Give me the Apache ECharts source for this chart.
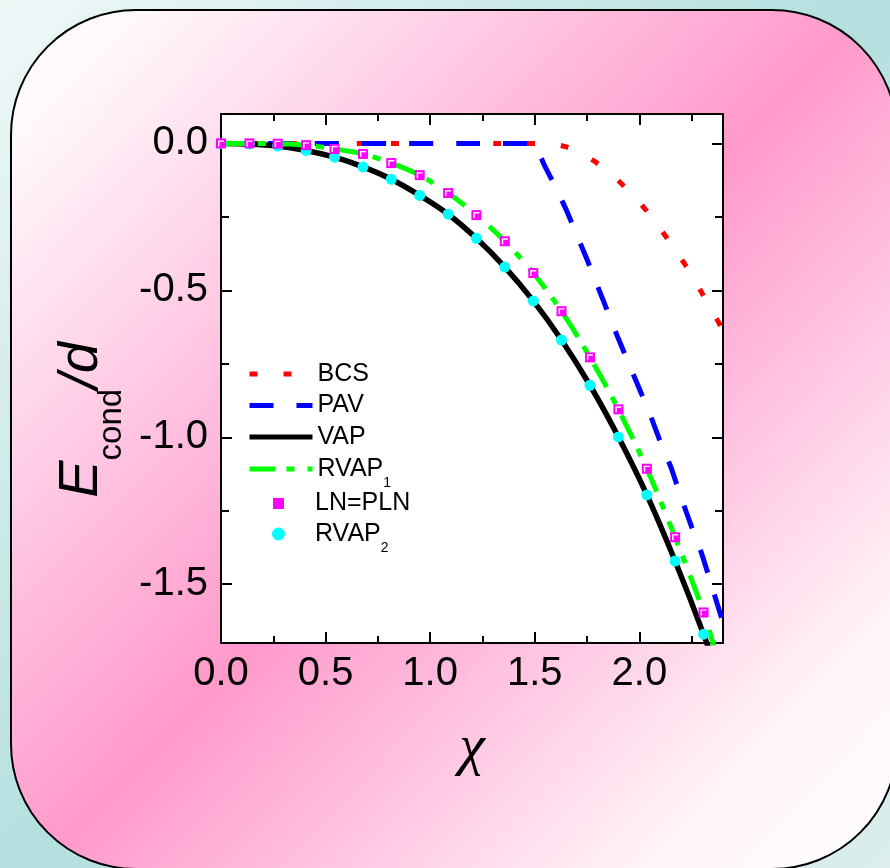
<!DOCTYPE html>
<html><head><meta charset="utf-8">
<script src="https://cdn.jsdelivr.net/npm/echarts@6/dist/echarts.min.js"></script>
<style>html,body{margin:0;padding:0;background:#fff}#c{width:890px;height:868px}</style>
</head><body><div id="c"></div>
<script>
// ---- data ----
const chiGrid = [0, 0.136, 0.271, 0.407, 0.543, 0.679, 0.814, 0.950, 1.086, 1.221, 1.357, 1.493, 1.628, 1.764, 1.900, 2.036, 2.171, 2.307];
const lnPlnE  = [0, 0, -0.001, -0.006, -0.019, -0.036, -0.067, -0.108, -0.169, -0.244, -0.333, -0.441, -0.571, -0.728, -0.905, -1.107, -1.340, -1.596];
const rvap2E  = [0, -0.002, -0.009, -0.024, -0.047, -0.080, -0.122, -0.177, -0.241, -0.323, -0.421, -0.536, -0.669, -0.823, -0.999, -1.196, -1.421, -1.670];

const vapChi  = [0, 0.136, 0.271, 0.407, 0.543, 0.679, 0.814, 0.950, 1.086, 1.221, 1.357, 1.493, 1.628, 1.764, 1.900, 2.036, 2.171, 2.307, 2.40];
const vapE    = [0, -0.002, -0.009, -0.024, -0.047, -0.080, -0.122, -0.177, -0.241, -0.323, -0.421, -0.536, -0.669, -0.823, -0.999, -1.196, -1.421, -1.670, -1.86];
const rvap1E  = [0, 0, -0.001, -0.006, -0.019, -0.036, -0.067, -0.108, -0.169, -0.244, -0.333, -0.441, -0.571, -0.728, -0.905, -1.107, -1.340, -1.596, -1.82];

const bcsChi  = [0, 1.40, 1.53, 1.60, 1.65, 1.70, 1.75, 1.80, 1.85, 1.90, 1.95, 2.00, 2.05, 2.10, 2.15, 2.20, 2.25, 2.30, 2.35, 2.40];
const bcsE    = [0, 0, 0, -0.004, -0.012, -0.026, -0.045, -0.068, -0.095, -0.127, -0.162, -0.200, -0.243, -0.290, -0.340, -0.392, -0.447, -0.510, -0.572, -0.636];

const pavChi  = [0, 1.40, 1.49, 1.55, 1.60, 1.65, 1.70, 1.75, 1.80, 1.85, 1.90, 1.95, 2.00, 2.05, 2.10, 2.15, 2.20, 2.25, 2.30, 2.35, 2.40];
const pavE    = [0, 0, 0, -0.08, -0.15, -0.225, -0.31, -0.395, -0.485, -0.575, -0.665, -0.75, -0.835, -0.92, -1.015, -1.10, -1.205, -1.305, -1.40, -1.515, -1.63];

const xTicks = [0, 0.5, 1.0, 1.5, 2.0];
const xMinor = [0.25, 0.75, 1.25, 1.75, 2.25];
const yTicks = [0, -0.5, -1.0, -1.5];
const yMinor = [-0.25, -0.75, -1.25];

const seriesNames = ['BCS', 'PAV', 'VAP', 'RVAP1', 'LN=PLN', 'RVAP2'];

// ---- build ----
const zip = (xs, ys) => xs.map((x, i) => [x, ys[i]]);
const FONT = '"Liberation Sans", Arial, sans-serif';
const SERIF = '"Liberation Serif", "Times New Roman", serif';
const fmt = v => Number(v).toFixed(1);

function mkX(position, ticks, len, labels, extra) {
  return Object.assign({
    type: 'value', position, min: 0, max: 2.4, gridIndex: 0,
    axisLine: { show: true, onZero: false, lineStyle: { color: '#000', width: 2 } },
    axisTick: { show: true, inside: true, length: len, customValues: ticks, lineStyle: { color: '#000', width: 2 } },
    axisLabel: { show: labels, customValues: ticks, formatter: fmt, fontSize: 40, fontFamily: FONT, color: '#000', margin: 11 },
    splitLine: { show: false }
  }, extra || {});
}
function mkY(position, ticks, len, labels, extra) {
  return Object.assign({
    type: 'value', position, min: -1.7, max: 0.1, gridIndex: 0,
    axisLine: { show: true, onZero: false, lineStyle: { color: '#000', width: 2 } },
    axisTick: { show: true, inside: true, length: len, customValues: ticks, lineStyle: { color: '#000', width: 2 } },
    axisLabel: { show: labels, customValues: ticks, formatter: fmt, fontSize: 40, fontFamily: FONT, color: '#000', margin: 13 },
    splitLine: { show: false }
  }, extra || {});
}
const legendRich = { sub: { fontSize: 14, fontFamily: FONT, color: '#000', lineHeight: 14, padding: [28, 0, 0, 0], verticalAlign: 'middle' } };
function mkLegend(name, top, h, icon) {
  const l = {
    data: [name], left: 247, top, orient: 'vertical', padding: 0, itemGap: 0,
    itemWidth: 63, itemHeight: h, symbolKeepAspect: true,
    textStyle: { fontSize: 25, fontFamily: FONT, color: '#000', rich: legendRich },
    formatter: n => n === 'RVAP1' ? 'RVAP{sub|1}' : (n === 'RVAP2' ? 'RVAP{sub|2}' : n)
  };
  if (icon) { l.icon = icon; l.itemStyle = { opacity: 1 }; }
  else { l.itemStyle = { opacity: 0 }; l.lineStyle = { width: 5 }; }
  return l;
}
// icon paths span the whole 63-px icon box (tiny corner anchors) so the marker sits in its middle
const squareIcon = 'path://M0,5.5h0.01v0.01h-0.01Z M62.99,5.5h0.01v0.01h-0.01Z M26,0H37V11H26Z';
const circleIcon = 'path://M0,6.5h0.01v0.01h-0.01Z M62.99,6.5h0.01v0.01h-0.01Z M38,6.5A6.5,6.5,0,1,1,25,6.5A6.5,6.5,0,1,1,38,6.5Z';

const chart = echarts.init(document.getElementById('c'), null, { renderer: 'canvas' });
const option = {
  animation: false,
  graphic: [
    { type: 'rect', z: -20, silent: true, shape: { x: 0, y: 0, width: 890, height: 868 },
      style: { fill: new echarts.graphic.LinearGradient(0, 0, 1, 1, [
        { offset: 0, color: '#f0f8f8' }, { offset: 0.5, color: '#b4dfdf' }, { offset: 1, color: '#dceeee' }]) } },
    { type: 'rect', z: -19, silent: true, shape: { x: 11, y: 10, width: 886, height: 859, r: 125 },
      style: { stroke: '#000', lineWidth: 2, fill: new echarts.graphic.LinearGradient(0, 0, 1, 1, [
        { offset: 0, color: '#ffffff' }, { offset: 0.08, color: '#fff8fb' }, { offset: 0.5, color: '#ff99cc' },
        { offset: 0.85, color: '#fff4f8' }, { offset: 1, color: '#ffffff' }]) } }
  ],
  grid: { left: 221, top: 114, width: 502, height: 529, show: true, backgroundColor: '#ffffff', borderWidth: 0 },
  xAxis: [
    mkX('bottom', xTicks, 11, true, { name: 'χ', nameLocation: 'middle', nameGap: 77,
      nameTextStyle: { fontSize: 58, fontStyle: 'italic', fontFamily: SERIF, color: '#000' } }),
    mkX('bottom', xMinor, 7, false),
    mkX('top', xTicks, 11, false),
    mkX('top', xMinor, 7, false)
  ],
  yAxis: [
    mkY('left', yTicks, 11, true, { name: '{e|E}{sub|cond}{e|/d}', nameLocation: 'middle', nameGap: 94, nameRotate: 90,
      nameTextStyle: { padding: [0, 83, 0, 0], rich: {
        e: { fontSize: 56, fontStyle: 'italic', fontFamily: FONT, color: '#000', lineHeight: 56, verticalAlign: 'middle' },
        sub: { fontSize: 33, fontFamily: FONT, color: '#000', lineHeight: 33, padding: [60, 0, 0, 0], verticalAlign: 'middle' } } } }),
    mkY('left', yMinor, 8, false),
    mkY('right', yTicks, 11, false),
    mkY('right', yMinor, 8, false)
  ],
  legend: [
    mkLegend('BCS', 361.5, 12),
    mkLegend('PAV', 393, 12),
    mkLegend('VAP', 424.5, 12),
    mkLegend('RVAP1', 448, 12),
    mkLegend('LN=PLN', 491, 11, squareIcon),
    mkLegend('RVAP2', 513, 13, circleIcon)
  ],
  series: [
    { name: seriesNames[0], type: 'line', data: zip(bcsChi, bcsE), symbol: 'none', smooth: 0.25, color: '#ff0000',
      lineStyle: { color: '#ff0000', width: 5, type: [8, 26], cap: 'butt' } },
    { name: seriesNames[1], type: 'line', data: zip(pavChi, pavE), symbol: 'none', smooth: 0.15, color: '#0000ff',
      lineStyle: { color: '#0000ff', width: 5, type: [24, 23], cap: 'butt' } },
    { name: seriesNames[2], type: 'line', data: zip(vapChi, vapE), symbol: 'none', smooth: 0.3, color: '#000000',
      lineStyle: { color: '#000000', width: 5.5, type: 'solid' } },
    { name: seriesNames[3], type: 'line', data: zip(vapChi, rvap1E), symbol: 'none', smooth: 0.3, color: '#00ff00',
      lineStyle: { color: '#00ff00', width: 5, type: [26, 11, 8, 13], cap: 'butt' } },
    { name: seriesNames[5], type: 'scatter', z: 3, data: zip(chiGrid, rvap2E), symbol: 'circle', symbolSize: 11, color: '#00ffff',
      itemStyle: { color: '#00ffff', opacity: 1 } },
    { name: seriesNames[4], type: 'scatter', z: 4, data: zip(chiGrid, lnPlnE), symbol: 'rect', symbolSize: 10, color: '#ff00ff',
      itemStyle: { color: '#ff00ff', opacity: 1 } },
    { name: seriesNames[4], type: 'scatter', z: 5, data: zip(chiGrid, lnPlnE), silent: true,
      symbol: 'path://M0,0h0.2v0.2h-0.2Z M9.8,9.8h0.2v0.2h-0.2Z M2,2L8,2L8,3.4L3.4,3.4L3.4,8L2,8Z',
      symbolSize: 10, itemStyle: { color: '#ffffff', opacity: 1 } }
  ]
};
chart.setOption(option);
</script>
</body></html>
